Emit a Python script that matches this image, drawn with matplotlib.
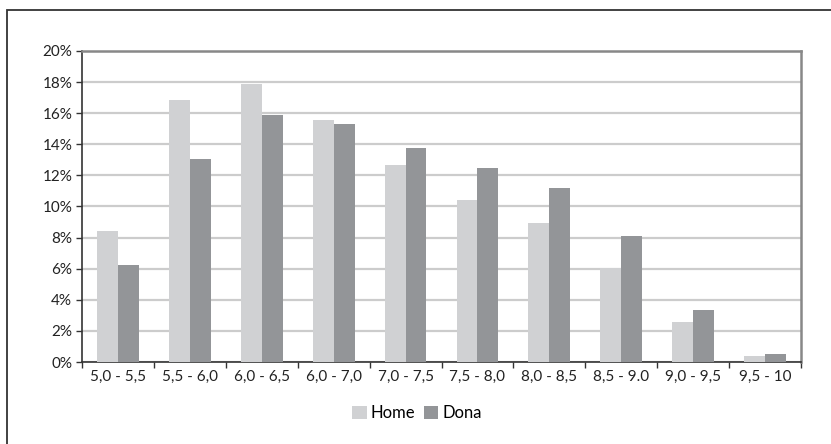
import matplotlib
matplotlib.use("Agg")
import matplotlib.pyplot as plt
from matplotlib.patches import Rectangle
from matplotlib.ticker import FuncFormatter, FixedLocator
import numpy as np

categories = ["5,0 - 5,5", "5,5 - 6,0", "6,0 - 6,5", "6,0 - 7,0", "7,0 - 7,5",
              "7,5 - 8,0", "8,0 - 8,5", "8,5 - 9.0", "9,0 - 9,5", "9,5 - 10"]
home = [8.43, 16.86, 17.88, 15.56, 12.67, 10.42, 8.95, 6.05, 2.58, 0.39]
dona = [6.24, 13.06, 15.89, 15.30, 13.77, 12.49, 11.20, 8.11, 3.35, 0.52]

plt.rcParams['font.family'] = ['Lato', 'DejaVu Sans']

W, H = 831, 444
fig = plt.figure(figsize=(W / 100, H / 100), dpi=100)
# outer frame
fig.patches.append(Rectangle((7 / W, 0 - 0.01), 1.0, 1 - 10 / H + 0.01,
                             transform=fig.transFigure, fill=False,
                             edgecolor='#333333', linewidth=1.3))

ax = fig.add_axes([82 / W, 1 - 362 / H, (801 - 82) / W, (362 - 51) / H])
x = np.arange(len(categories))
bw = 0.29
ax.bar(x - bw / 2, home, width=bw, color='#d0d1d3', label='Home', zorder=3)
ax.bar(x + bw / 2, dona, width=bw, color='#939598', label='Dona', zorder=3)

ax.set_xlim(-0.5, len(categories) - 0.5)
ax.set_ylim(0, 20)
ax.set_yticks(np.arange(0, 21, 2))
ax.yaxis.set_major_formatter(FuncFormatter(lambda v, p: f"{int(v)}%"))
ax.yaxis.grid(True, color='#cccccc', linewidth=1.6, zorder=0)
ax.set_axisbelow(True)

ax.set_xticks(x)
ax.set_xticklabels(categories)
ax.xaxis.set_minor_locator(FixedLocator(np.arange(-0.5, len(categories), 1)))
ax.tick_params(axis='x', which='major', length=0, pad=6, labelsize=11, colors='#222222')
ax.tick_params(axis='x', which='minor', length=4, width=1, color='#333333', direction='out')
ax.tick_params(axis='y', length=4, width=1, color='#333333', labelsize=11,
               labelcolor='#222222', pad=3)

for s in ['left', 'bottom']:
    ax.spines[s].set_color('#333333')
    ax.spines[s].set_linewidth(1.2)
for s in ['top', 'right']:
    ax.spines[s].set_color('#888888')
    ax.spines[s].set_linewidth(1.8)

leg = fig.legend(loc='center', bbox_to_anchor=(417 / W, 1 - 413 / H), ncol=2,
                 frameon=False, fontsize=12, handlelength=0.85, handleheight=0.85,
                 handletextpad=0.25, columnspacing=0.5)

fig.savefig('out.png', dpi=100)
